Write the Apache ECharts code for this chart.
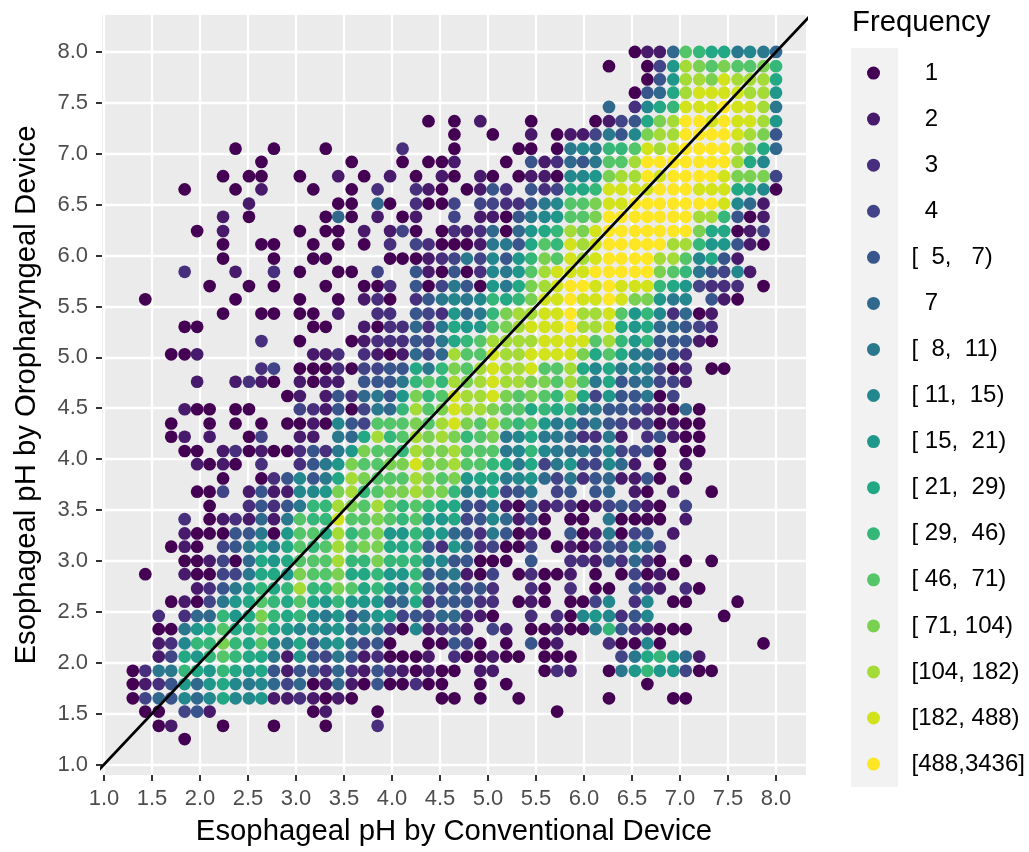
<!DOCTYPE html>
<html>
<head>
<meta charset="utf-8">
<style>html,body{margin:0;padding:0;background:#fff}#c{width:1029px;height:852px}</style>
<script src="https://cdn.jsdelivr.net/npm/echarts@6/dist/echarts.min.js"></script>
</head>
<body>
<div id="c"></div>
<script>
const phX = [1.30,1.43,1.57,1.70,1.84,1.97,2.10,2.24,2.37,2.51,2.64,2.77,2.91,3.04,3.18,3.31,3.44,3.58,3.71,3.85,3.98,4.11,4.25,4.38,4.52,4.65,4.78,4.92,5.05,5.19,5.32,5.45,5.59,5.72,5.86,5.99,6.12,6.26,6.39,6.53,6.66,6.79,6.93,7.06,7.20,7.33,7.46,7.60,7.73,7.87,8.00];
const phY = [8.00,7.86,7.73,7.60,7.46,7.32,7.19,7.05,6.92,6.78,6.65,6.51,6.38,6.24,6.11,5.97,5.84,5.70,5.57,5.43,5.30,5.16,5.03,4.89,4.76,4.62,4.49,4.35,4.22,4.08,3.95,3.81,3.68,3.54,3.41,3.27,3.14,3.00,2.87,2.73,2.60,2.46,2.33,2.19,2.06,1.92,1.79,1.65,1.52,1.38,1.25];
const tickValues = [1.0,1.5,2.0,2.5,3.0,3.5,4.0,4.5,5.0,5.5,6.0,6.5,7.0,7.5,8.0];
const freqLabels = ["  1","  2","  3","  4","[  5,   7)","  7","[  8,  11)","[ 11,  15)","[ 15,  21)","[ 21,  29)","[ 29,  46)","[ 46,  71)","[ 71, 104)","[104, 182)","[182, 488)","[488,3436]"];
const freqColors = ["#440154","#481A6C","#472F7D","#414487","#39568C","#31688E","#2A788E","#23888E","#1F988B","#22A884","#35B779","#54C568","#7AD151","#A5DB36","#D2E21B","#FDE725"];
const levelCodes = "123456789abcdefg";
// one row per phY value, one character per phX value: index into freqLabels (. = no observations)
const levelRows = [
".......... .......... .......... .........1 226cbaa7876",
".......... .......... .......... .......1.. 149edcdccdb",
".......... .......... .......... .......... 159eedfeeea",
".......... .......... .......... .........1 56aeffffee9",
".......... .......... .......... .......6.3 8abfffgffe7",
".......... .......... ...1.1.2.. .1....1245 adeggfgffe9",
".......... .......... .....1..1. .2.1224758 deeggggfed5",
"........1. .1...1.... .3...1.... 11.1787bbc fefggggeda6",
".......... 1......1.. .1.112...1 .523657cce gggggggea8.",
".......1.1 1..1..2.1. 2.1.21.21. 1221889dee gfggggfddd4",
"....1...1. 2...1..1.3 ..321.1253 .534aabfff fgggfffaa81",
".........2 ......11.6 1.3114.443 3578ccdffg ggggggf862.",
".......2.1 .....161.2 .12..4.221 5789ccdggg ggggeeb512.",
".....1.2.. ...1.11.2. 241.132361 69abedfggg ggggdaa124.",
".......1.. 11..1.1.1. 3.43111277 5acbfefggg ggeeb99521.",
".......1.. .1..11.... 1112347485 9bdcfefggg geec8a52...",
"....3...2. .3.1..11.4 ..52151387 9cefffgggg gdcb75482..",
"......1..1 .1...1..11 3.51475197 adefggfgff fba94333.1.",
".1......1. ...1..1.23 1.357878ba bdffgffgfd d978.521...",
".......1.. 11.11.2..3 3.543967bd eeffgeefc9 b83612.....",
"....11.... ....11..21 33637a99cd efffgeefa9 a66543.....",
".......... 3..1...123 33547abcee eeffffceb9 b55521.....",
"...112.... ....223.32 12646eccfe effffdaca7 7553.......",
".......... 34.1113144 55a7bdcefe efccea8a78 7413.11....",
".....2..23 21.2122.55 57bcbedefe eddcec7a56 7442.......",
".......... ..12.25367 59dbcfeefd cdcbea4955 714........",
"....211.11 ...4325147 6becdfeedc cabab77555 32161......",
"...1..1.1. 1.1121854c ccdcefdcec bc97857543 41211......",
"...12.2..1 4..22.76ae bcededbcd7 8a7763372. 35211......",
"....11.231 21135379dc cbeddeccc7 8b87675844 51.11......",
".....2121. 3..3579dcc ddfddeccba 7a47944862 .1.2.......",
".......1.. 135857aedc ccedcd9aa7 8964735622 51.1.......",
".....114.2 522889debc ddeddb78a4 57.45.56.2 1.2..1.....",
"......1..3 5357bbedce cbcbaa5472 1523312454 21.4.......",
"....3.1232 627cbbfccd cbc99a4586 251.11.711 11.2.......",
"....211155 719ccaebcd 99b9965375 121.512714 5.2........",
"...121.457 97acbcecdd aab5396341 14.1213547 64.........",
"....112416 a9acccebbd bbb8855111 .5..332536 31.1.1.....",
".1..211447 aa9dccdaab 99b567214. 13112.1.14 121........",
".....23579 babebbdcab 97b646453. .31.3.11.5 32.31......",
"...121479a cbaca9b999 56a355533. 121.1148.3 8.11...1...",
"..3.366b9a dbab879579 945466321. .3.3189835 8.....1....",
"..1179acaa ca98889687 3182342.42 .112117b53 2111.......",
"..238bbdba c87a589645 1..11541.1 .512...311 81.......1.",
"..24a9bcba a729547523 1112.31121 1.111...47 ab962......",
"1377ba9ba9 a525536325 321211.22. ..132..179 b99411.....",
"1235969a87 8646126215 11311..1.1 .......... 1..........",
"1465868a88 92232121.. ....11.1.. 1......1.. ..11.......",
".11.452... ....12...1 .......... ...1...... ...........",
"..12...1.. .1...1...3 .......... .......... ...........",
"....1..... .......... .......... .......... ..........."
];
const identityLine = [[0,0],[9,9]];

const pointsByLevel = freqLabels.map(() => []);
levelRows.forEach((row, r) => {
  row.replace(/ /g, "").split("").forEach((code, c) => {
    const level = levelCodes.indexOf(code);
    if (level >= 0) pointsByLevel[level].push([phX[c], phY[r]]);
  });
});

const fontFamily = "Liberation Sans";
const makeAxis = (name, extent, nameGap, rotate, margin) => ({
  type: "value",
  name,
  nameLocation: "middle",
  nameGap,
  nameRotate: rotate,
  nameTextStyle: {color: "#000", fontSize: 29.3, fontFamily},
  min: extent[0],
  max: extent[1],
  axisLine: {show: false},
  axisTick: {show: true, length: 6, lineStyle: {color: "#333333", width: 2}, customValues: tickValues},
  axisLabel: {color: "#4D4D4D", fontSize: 22, fontFamily, margin,
    customValues: tickValues, formatter: v => v.toFixed(1), hideOverlap: false},
  splitLine: {show: true, lineStyle: {color: "#FFFFFF", width: 2.3}},
  minorSplitLine: {show: false}
});

const chart = echarts.init(document.getElementById("c"), null, {renderer: "canvas"});
chart.setOption({
  animation: false,
  backgroundColor: "#FFFFFF",
  title: {text: "Frequency", left: 852, top: 8, padding: 0,
    textStyle: {color: "#000", fontSize: 29.3, fontWeight: "normal", fontFamily}},
  grid: {left: 102, top: 15, width: 704, height: 760, show: true,
    backgroundColor: "#EBEBEB", borderWidth: 0, containLabel: false},
  xAxis: makeAxis("Esophageal pH by Conventional Device", [0.979, 8.3125], 42, 0, 13),
  yAxis: makeAxis("Esophageal pH by Oropharyngeal Device", [0.897, 8.363], 61, 90, 14),
  legend: {
    orient: "vertical", left: 867, top: 50, padding: 0, itemGap: 0,
    itemWidth: 66, itemHeight: 13, selectedMode: false,
    data: freqLabels.map(name => ({name, icon: "circle"})),
    textStyle: {color: "#000", fontSize: 24, fontFamily, lineHeight: 46.07, padding: 0}
  },
  graphic: [{type: "rect", z: -1, silent: true, shape: {x: 851, y: 48, width: 47, height: 739},
    style: {fill: "#F2F2F2"}}],
  series: freqLabels.map((name, i) => ({
    name, type: "scatter", data: pointsByLevel[i], symbol: "circle", symbolSize: 12.7,
    itemStyle: {color: freqColors[i], opacity: 1}, silent: true, z: 2, clip: true
  })).concat([{
    type: "line", data: identityLine, symbol: "none", silent: true, z: 5, clip: true,
    lineStyle: {color: "#000", width: 2.7}
  }])
});
</script>
</body>
</html>
